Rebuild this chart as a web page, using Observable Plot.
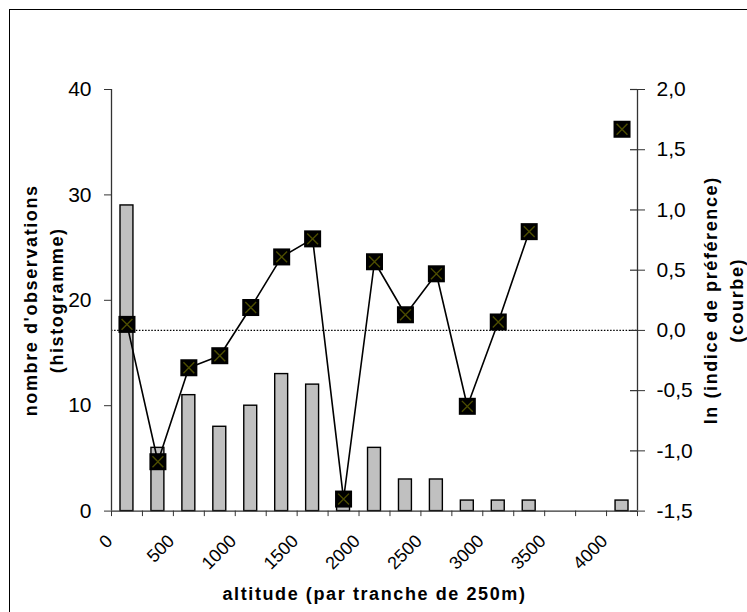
<!DOCTYPE html>
<html><head><meta charset="utf-8">
<script src="https://cdn.jsdelivr.net/npm/d3@7"></script>
<script src="https://cdn.jsdelivr.net/npm/@observablehq/plot@0.6"></script>
<style>
html,body{margin:0;padding:0;background:#fff;overflow:hidden;width:747px;height:612px}
#frame{position:absolute;left:9px;top:9px;width:760px;height:630px;border:1px solid #000;box-sizing:border-box}
#chart{position:absolute;left:0;top:0}
</style></head><body>
<div id="frame"></div><div id="chart"></div>
<script>
const altitudes = [0,250,500,750,1000,1250,1500,1750,2000,2250,2500,2750,3000,3250,3500,3750,4000];
const counts = [29,6,11,8,10,13,12,1,6,3,3,1,1,1,0,0,1];
const lnIndex = [0.05,-1.09,-0.31,-0.21,0.19,0.61,0.76,-1.40,0.57,0.13,0.47,-0.63,0.07,0.82,null,null,1.67];
const binWidth = 250;
const xTickLabels = [0,500,1000,1500,2000,2500,3000,3500,4000];
const leftTicks = [0,10,20,30,40];
const rightTicks = [-1.5,-1.0,-0.5,0,0.5,1.0,1.5,2.0];
const xTitle = "altitude (par tranche de 250m)";
const leftTitle = "nombre d'observations\n(histogramme)";
const rightTitle = "ln (indice de préférence)\n(courbe)";

const countMax = 40, lnMin = -1.5, lnMax = 2.0;
const toY = v => (v - lnMin) * countMax / (lnMax - lnMin);
const fromY = c => c * (lnMax - lnMin) / countMax + lnMin;
const fmt = v => (Math.round(v * 10) / 10).toFixed(1).replace(".", ",");

const rows = altitudes.map((a, i) => ({alt: a, count: counts[i], ln: lnIndex[i]}));
const pts = rows.filter(d => d.ln != null);
const xMax = altitudes[altitudes.length - 1] + binWidth;

const font = "'Liberation Sans', Arial, sans-serif";
const axisColor = "#333";

const chart = Plot.plot({
  width: 747, height: 612,
  marginLeft: 111, marginRight: 110, marginTop: 89, marginBottom: 101.4,
  x: {type: "linear", domain: [0, xMax]},
  y: {domain: [0, countMax]},
  style: {fontFamily: font, background: "transparent", color: "#000", overflow: "visible"},
  marks: [
    Plot.ruleY([toY(0)], {stroke: "#000", strokeWidth: 1.3, strokeDasharray: "1.5,1.6"}),
    Plot.rectY(rows, {filter: d => d.count > 0, x1: "alt", x2: d => d.alt + binWidth, y1: 0, y2: "count",
      fill: "#c0c0c0", stroke: "#000", strokeWidth: 1.4, insetLeft: 9, insetRight: 9}),
    Plot.ruleX([0, xMax], {stroke: axisColor, strokeWidth: 1.3}),
    Plot.ruleY([0], {stroke: axisColor, strokeWidth: 1.3}),
    Plot.axisY(leftTicks, {anchor: "left", tickSize: 7, tickPadding: 13, fontSize: 21, label: null, stroke: axisColor}),
    Plot.axisY(rightTicks.map(toY), {anchor: "right", tickSize: 7, tickPadding: 12, fontSize: 21,
      tickFormat: d => fmt(fromY(d)), label: null, stroke: axisColor}),
    Plot.ruleY(rightTicks.map(toY), {insetLeft: 519, stroke: axisColor, strokeWidth: 1.2}),
    Plot.axisX(altitudes.concat([xMax]), {tickSize: 5.5, tickFormat: () => "", label: null, stroke: axisColor}),
    Plot.text(xTickLabels, {x: d => d, text: d => String(d), frameAnchor: "bottom", dy: 27, dx: -2,
      rotate: -45, textAnchor: "end", lineAnchor: "middle", fontSize: 18}),
    Plot.line(rows, {x: d => d.alt + binWidth / 2, y: d => d.ln == null ? null : toY(d.ln),
      stroke: "#000", strokeWidth: 1.6}),
    Plot.dot(pts, {x: d => d.alt + binWidth / 2, y: d => toY(d.ln), symbol: "square", r: 9.6, fill: "#000", stroke: null}),
    Plot.dot(pts, {x: d => d.alt + binWidth / 2, y: d => toY(d.ln), symbol: "times", r: 5, stroke: "#4d4d00", strokeWidth: 1.4}),
    Plot.text([leftTitle], {text: d => d, frameAnchor: "left", dx: -70, rotate: -90, fontSize: 18, fontWeight: "bold",
      lineHeight: 1.45, textAnchor: "middle", lineAnchor: "middle"}),
    Plot.text([rightTitle], {text: d => d, frameAnchor: "right", dx: 84, rotate: -90, fontSize: 18, fontWeight: "bold",
      lineHeight: 1.45, textAnchor: "middle", lineAnchor: "middle"}),
    Plot.text([xTitle], {text: d => d, frameAnchor: "bottom", dy: 83.5, fontSize: 18, fontWeight: "bold",
      textAnchor: "middle", lineAnchor: "middle"})
  ]
});
document.getElementById("chart").appendChild(chart);
chart.querySelectorAll('[font-weight="bold"]').forEach(g => g.setAttribute("letter-spacing", "1.6"));
</script>
</body></html>
